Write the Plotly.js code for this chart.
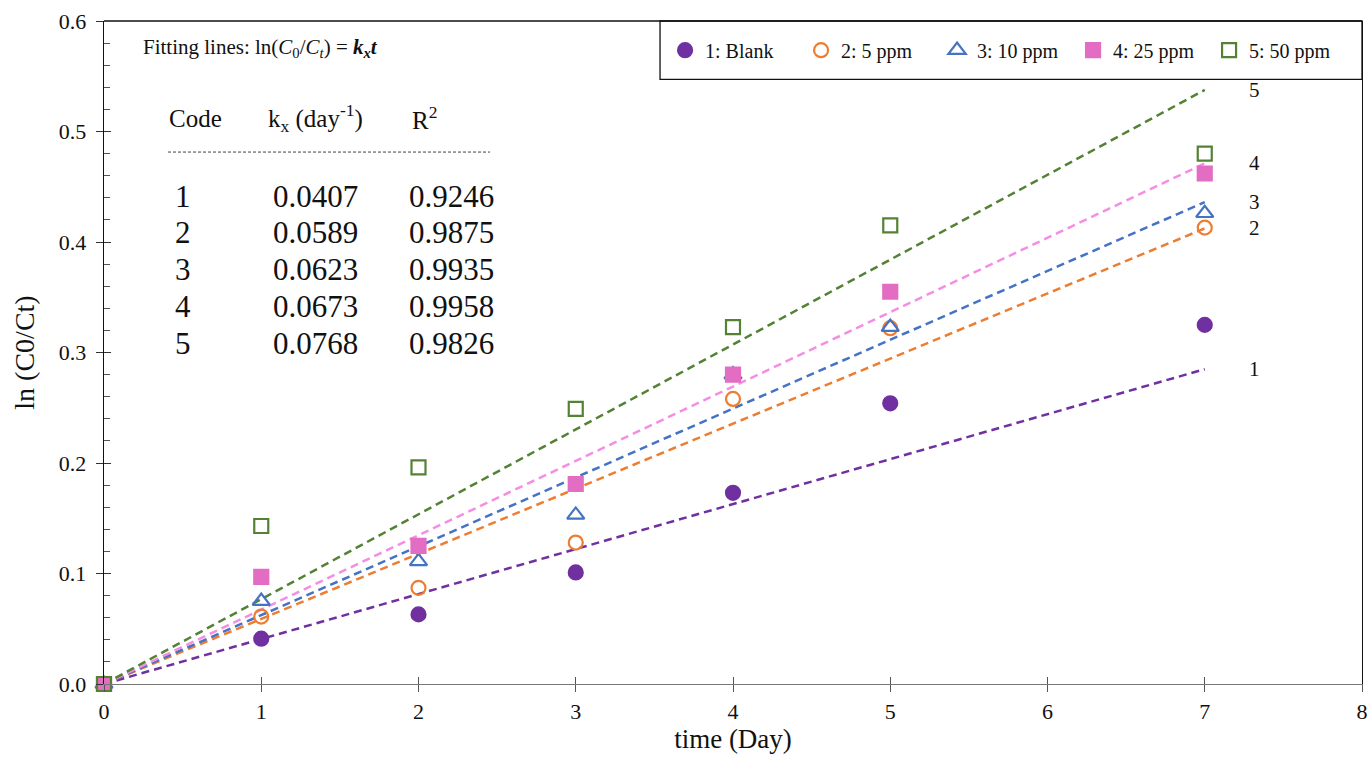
<!DOCTYPE html>
<html>
<head>
<meta charset="utf-8">
<script src="https://cdn.plot.ly/plotly-3.0.1.min.js"></script>
<style>html,body{margin:0;padding:0;background:#fff}#chart{width:1372px;height:757px}</style>
</head>
<body>
<div id="chart"></div>
<script>
// ---- data ----
const days = [0, 1, 2, 3, 4, 5, 7];
const seriesNames = ["1: Blank", "2: 5 ppm", "3: 10 ppm", "4: 25 ppm", "5: 50 ppm"];
const blank  = [0, 0.041, 0.063, 0.101, 0.173, 0.254, 0.325];
const ppm5   = [0, 0.061, 0.087, 0.128, 0.258, 0.322, 0.413];
const ppm10  = [0, 0.075, 0.111, 0.153, 0.280, 0.323, 0.426];
const ppm25  = [0, 0.097, 0.125, 0.181, 0.280, 0.355, 0.462];
const ppm50  = [0, 0.143, 0.196, 0.249, 0.323, 0.415, 0.480];
const codes = ["1", "2", "3", "4", "5"];
const kValues = [0.0407, 0.0589, 0.0623, 0.0673, 0.0768];
const r2Values = ["0.9246", "0.9875", "0.9935", "0.9958", "0.9826"];
const fitRange = [0, 7];

// ---- styles ----
const values = [blank, ppm5, ppm10, ppm25, ppm50];
const markerColors = ["#7030A0", "#ED7D31", "#4472C4", "#E36DC3", "#548235"];
const lineColors = ["#7030A0", "#ED7D31", "#4472C4", "#F58EE3", "#548235"];
const symbols = ["circle", "circle-open", "triangle-up-open", "square", "square-open"];
const FONT = "Liberation Serif, Times New Roman, serif";

const traces = [];
kValues.forEach((k, i) => {
  traces.push({
    x: fitRange, y: fitRange.map(t => k * t), mode: "lines", type: "scatter",
    line: {color: lineColors[i], width: 2.5, dash: "8px,5px"},
    showlegend: false, hoverinfo: "skip"
  });
});
values.forEach((v, i) => {
  traces.push({
    x: days, y: v, mode: "markers", type: "scatter", name: seriesNames[i],
    marker: {symbol: symbols[i], size: symbols[i].startsWith("triangle") ? 15 : 14, color: markerColors[i],
      line: {color: markerColors[i], width: 2.2}},
    cliponaxis: false
  });
});
traces.push({x: [], y: [], xaxis: "x2", yaxis: "y2", showlegend: false, type: "scatter", mode: "markers"});

const annotations = [];
annotations.push({xref: "x", yref: "y", x: 0.235, y: 0.5756, xanchor: "left", yanchor: "middle", showarrow: false,
  text: "Fitting lines: ln(<i>C</i><sub>0</sub>/<i>C</i><sub><i>t</i></sub>) = <b><i>k</i></b><sub><b><i>x</i></b></sub><b><i>t</i></b>",
  font: {family: FONT, size: 21, color: "#111"}});
const headerY = 0.512;
annotations.push({xref: "x", yref: "y", x: 0.585, y: headerY, showarrow: false, text: "Code", font: {family: FONT, size: 25, color: "#111"}});
annotations.push({xref: "x", yref: "y", x: 1.342, y: headerY, showarrow: false, text: "k<sub>x</sub> (day<sup>-1</sup>)", font: {family: FONT, size: 25, color: "#111"}});
annotations.push({xref: "x", yref: "y", x: 2.04, y: headerY, showarrow: false, text: "R<sup>2</sup>", font: {family: FONT, size: 25, color: "#111"}});
const rowY0 = 0.4416, rowStep = 0.03345;
codes.forEach((c, i) => {
  const y = rowY0 - i * rowStep;
  annotations.push({xref: "x", yref: "y", x: 0.502, y: y, showarrow: false, text: c, font: {family: FONT, size: 31, color: "#111"}});
  annotations.push({xref: "x", yref: "y", x: 1.342, y: y, showarrow: false, text: kValues[i].toFixed(4), font: {family: FONT, size: 31, color: "#111"}});
  annotations.push({xref: "x", yref: "y", x: 2.207, y: y, showarrow: false, text: r2Values[i], font: {family: FONT, size: 31, color: "#111"}});
});
kValues.forEach((k, i) => {
  annotations.push({xref: "x", yref: "y", x: fitRange[1], y: k * fitRange[1], xshift: 50, yshift: 0, showarrow: false,
    text: codes[i], font: {family: FONT, size: 21, color: "#111"}});
});

const layout = {
  width: 1372, height: 757,
  margin: {l: 104, r: 10, t: 21, b: 73, autoexpand: false},
  paper_bgcolor: "#fff", plot_bgcolor: "#fff",
  font: {family: FONT, size: 20, color: "#111"},
  showlegend: true,
  legend: {orientation: "h", x: 0.446, xanchor: "left", y: 0.956, yanchor: "middle",
    bgcolor: "rgba(0,0,0,0)", borderwidth: 0, font: {family: FONT, size: 20, color: "#111"},
    itemwidth: 30, entrywidth: 91, entrywidthmode: "pixels", tracegroupgap: 0},
  xaxis: {range: [0, 8], dtick: 1, tick0: 0, showgrid: false, zeroline: false,
    showline: true, linecolor: "#777", linewidth: 1.3,
    ticks: "outside", ticklen: 7, tickcolor: "#555", tickwidth: 1,
    tickfont: {family: FONT, size: 22, color: "#111"},
    title: {text: "time (Day)", font: {family: FONT, size: 27, color: "#111"}, standoff: 6}},
  yaxis: {range: [0, 0.6], dtick: 0.1, tick0: 0, tickformat: ".1f", showgrid: false, zeroline: false,
    showline: true, linecolor: "#111", linewidth: 1.3, mirror: true,
    ticks: "inside", ticklen: 7, tickcolor: "#333", tickwidth: 1,
    minor: {dtick: 0.02, ticks: "inside", ticklen: 6, tickcolor: "#555", tickwidth: 1},
    ticklabelstandoff: 12,
    tickfont: {family: FONT, size: 22, color: "#111"},
    title: {text: "ln (C0/Ct)", font: {family: FONT, size: 28, color: "#111"}, standoff: 16}},
  xaxis2: {overlaying: "x", anchor: "y2", side: "bottom", range: [0, 8], dtick: 1, tick0: 0, showgrid: false, zeroline: false,
    showline: false, ticks: "inside", ticklen: 7, tickcolor: "#555", showticklabels: false},
  yaxis2: {overlaying: "y", anchor: "x2", side: "left", range: [0, 0.6], dtick: 0.1, tick0: 0, showgrid: false, zeroline: false,
    showline: false, ticks: "outside", ticklen: 7, tickcolor: "#333", showticklabels: false},
  shapes: [
    {type: "line", xref: "paper", yref: "paper", x0: 0, x1: 1, y0: 1, y1: 1, line: {color: "#111", width: 1.3}},
    {type: "rect", xref: "paper", yref: "paper", x0: 0.442, x1: 1, y0: 0.912, y1: 1, line: {color: "#111", width: 1.3}, fillcolor: "rgba(0,0,0,0)"},
    {type: "line", xref: "x", yref: "y", x0: 0.407, x1: 2.455, y0: 0.4814, y1: 0.4814, line: {color: "#444", width: 1, dash: "3px,2px"}}
  ],
  annotations: annotations
};

Plotly.newPlot("chart", traces, layout, {displayModeBar: false, staticPlot: true});
</script>
</body>
</html>
